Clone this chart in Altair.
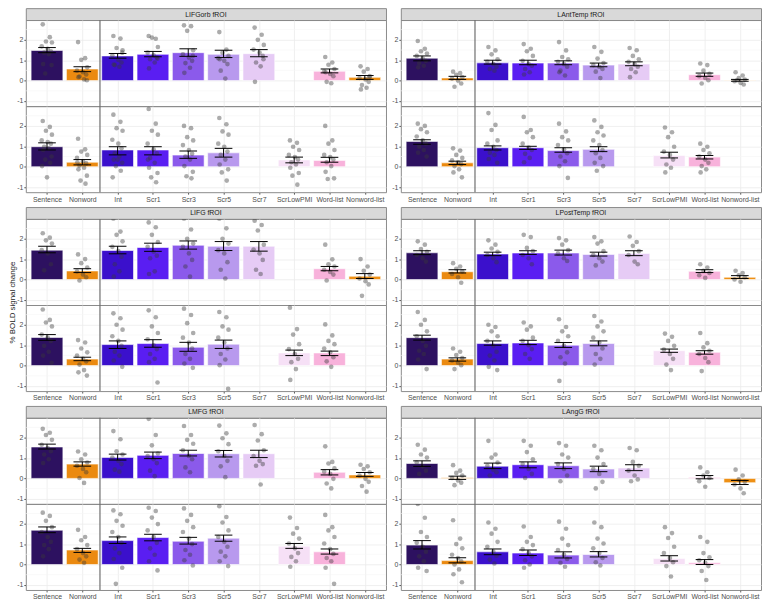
import altair as alt
import pandas as pd

cats = ["Sentence", "Nonword", "Int", "Scr1", "Scr3", "Scr5", "Scr7", "ScrLowPMI", "Word-list", "Nonword-list"]
colors = ["#2d1160", "#eb8a10", "#3b10cc", "#5a1ef2", "#8b5aeb", "#b899ee", "#e6cbf5", "#f6e0f6", "#f8b2db", "#ee9015"]
cats_top = ["Sentence", "Nonword", "Int", "Scr1", "Scr3", "Scr5", "Scr7", "Word-list", "Nonword-list"]
cats_bot = ["Sentence", "Nonword", "Int", "Scr1", "Scr3", "Scr5", "ScrLowPMI", "Word-list"]
y_ticks = [-1, 0, 1, 2]
minor_grid = [-0.5, 0.5, 1.5, 2.5]
jitter = [-0.12, 0.08, -0.03, 0.14, -0.15, 0.02, 0.11, -0.08, 0.05, -0.11, 0.13, -0.05, 0.09, -0.14, 0.0]
y_title = "% BOLD signal change"

LIFGorb = dict(
    name="LIFGorb fROI",
    top_mean=[1.48, 0.57, 1.21, 1.29, 1.37, 1.29, 1.32, 0.46, 0.16],
    top_lo=[1.37, 0.44, 1.10, 1.17, 1.19, 1.13, 1.17, 0.38, 0.06],
    top_hi=[1.62, 0.68, 1.33, 1.43, 1.56, 1.49, 1.52, 0.57, 0.25],
    bot_mean=[0.98, 0.22, 0.82, 0.82, 0.57, 0.68, 0.33, 0.31],
    bot_lo=[0.82, 0.09, 0.58, 0.58, 0.41, 0.47, 0.19, 0.22],
    bot_hi=[1.17, 0.35, 0.98, 0.98, 0.77, 0.90, 0.47, 0.46],
    top_dots=[
        [2.76, 2.13, 1.92, 1.87, 1.68, 1.56, 1.44, 1.37, 1.30, 0.81, 0.76, 0.35],
        [1.89, 1.10, 1.02, 0.65, 0.49, 0.41, 0.30, 0.20, 0.06, 0.17, 0.02],
        [2.19, 2.06, 1.60, 1.49, 1.24, 1.02, 0.89, 0.76, 0.68, 0.79, 1.37],
        [2.19, 2.05, 2.11, 1.65, 1.37, 1.24, 1.13, 1.05, 0.89, 0.60, 1.08],
        [2.71, 2.67, 2.44, 1.49, 1.29, 1.13, 0.97, 0.86, 0.63, 0.38, 1.21],
        [2.38, 1.52, 1.37, 1.21, 1.10, 0.97, 0.81, 0.49, 0.10, 1.05],
        [2.60, 2.25, 2.00, 1.75, 1.52, 1.37, 1.21, 0.89, 0.70, -0.06, 1.05],
        [1.16, 0.89, 0.78, 0.57, 0.46, 0.33, 0.22, -0.06, -0.13, 0.41],
        [0.70, 0.57, 0.44, 0.22, 0.13, 0.06, -0.06, -0.22, -0.35, -0.43, 0.17],
    ],
    bot_dots=[
        [2.24, 1.95, 1.76, 1.57, 1.29, 1.21, 1.13, 0.98, 0.90, 0.82, 0.50, 0.35, 0.19, 0.03, -0.52],
        [1.37, 0.85, 0.74, 0.58, 0.43, 0.27, 0.16, 0.06, -0.05, -0.13, -0.44, -0.68, -0.83, 0.22],
        [2.55, 2.20, 1.89, 1.76, 1.32, 1.13, 0.90, 0.66, 0.50, 0.35, 0.19, 0.03, -0.20, -0.52, 0.35],
        [2.83, 2.11, 1.76, 1.57, 1.13, 0.85, 0.66, 0.43, 0.19, -0.05, -0.31, -0.52, -0.76, 0.35],
        [2.00, 1.89, 1.45, 1.29, 1.06, 0.82, 0.63, 0.50, 0.35, 0.03, -0.25, -0.47, -0.57],
        [2.39, 2.08, 1.73, 1.57, 1.13, 0.98, 0.74, 0.58, 0.35, 0.11, -0.13, -0.28, -0.68],
        [1.29, 1.17, 0.98, 0.82, 0.58, 0.47, 0.35, 0.22, 0.11, -0.05, -0.31, -0.44, -0.88],
        [2.00, 1.29, 1.13, 0.82, 0.58, 0.47, 0.35, 0.22, 0.03, -0.25, -0.57, -0.60],
    ],
)

LAntTemp = dict(
    name="LAntTemp fROI",
    top_mean=[1.10, 0.13, 0.87, 0.86, 0.86, 0.76, 0.81, 0.29, 0.02],
    top_lo=[0.97, 0.06, 0.81, 0.78, 0.78, 0.68, 0.73, 0.21, -0.03],
    top_hi=[1.21, 0.21, 1.00, 1.00, 0.97, 0.86, 0.92, 0.37, 0.06],
    bot_mean=[1.24, 0.19, 0.93, 0.93, 0.79, 0.85, 0.55, 0.47],
    bot_lo=[1.10, 0.11, 0.82, 0.85, 0.71, 0.74, 0.43, 0.38],
    bot_hi=[1.32, 0.27, 1.02, 1.00, 0.93, 0.98, 0.71, 0.55],
    top_dots=[
        [1.94, 1.56, 1.44, 1.33, 1.21, 1.08, 0.97, 0.86, 0.73, 0.65],
        [0.44, 0.37, 0.29, 0.17, 0.10, 0.00, -0.14, -0.30],
        [1.65, 1.48, 1.29, 1.05, 0.92, 0.81, 0.68, 0.57, 0.49],
        [1.79, 1.56, 1.44, 1.21, 0.97, 0.81, 0.73, 0.57, 0.41, 0.30],
        [1.89, 1.48, 1.16, 1.05, 0.92, 0.81, 0.68, 0.49, 0.25, 0.41],
        [1.65, 1.41, 1.08, 0.86, 0.76, 0.68, 0.57, 0.44, 0.13],
        [1.60, 1.49, 1.21, 1.05, 0.92, 0.81, 0.68, 0.57, 0.41, 0.17],
        [0.84, 0.76, 0.49, 0.33, 0.22, 0.13, 0.02, -0.14],
        [0.41, 0.25, 0.13, 0.05, -0.03, -0.11, -0.19, 0.02],
    ],
    bot_dots=[
        [2.11, 2.00, 1.84, 1.69, 1.48, 1.29, 1.13, 0.98, 0.82, 0.69, 0.50],
        [0.90, 0.79, 0.58, 0.43, 0.31, 0.22, 0.13, 0.03, -0.13, -0.28, -0.52],
        [2.63, 2.05, 1.80, 1.29, 1.13, 0.98, 0.82, 0.69, 0.58, 0.38, 0.19],
        [2.44, 1.80, 1.69, 1.45, 1.13, 0.94, 0.82, 0.63, 0.43, 0.22],
        [2.11, 1.73, 1.45, 1.29, 1.06, 0.85, 0.66, 0.50, 0.27, 0.03, -0.55],
        [2.27, 1.95, 1.69, 1.53, 1.29, 1.06, 0.82, 0.66, 0.43, 0.19, 0.03, -0.20],
        [1.92, 1.69, 1.45, 0.98, 0.74, 0.58, 0.35, 0.11, -0.05, -0.28],
        [1.13, 0.98, 0.82, 0.66, 0.50, 0.35, 0.19, 0.03, -0.13, -0.28],
    ],
)

LIFG = dict(
    name="LIFG fROI",
    top_mean=[1.44, 0.42, 1.42, 1.57, 1.68, 1.63, 1.63, 0.53, 0.16],
    top_lo=[1.31, 0.34, 1.26, 1.38, 1.49, 1.42, 1.39, 0.43, 0.05],
    top_hi=[1.63, 0.53, 1.63, 1.78, 1.89, 1.86, 1.86, 0.64, 0.29],
    bot_mean=[1.38, 0.32, 1.03, 1.08, 0.90, 1.05, 0.62, 0.62],
    bot_lo=[1.24, 0.24, 0.84, 0.90, 0.70, 0.84, 0.49, 0.49],
    bot_hi=[1.52, 0.41, 1.21, 1.27, 1.14, 1.25, 0.76, 0.71],
    top_dots=[
        [2.27, 2.05, 1.92, 1.76, 1.44, 1.28, 0.75, 0.45],
        [1.23, 1.00, 0.80, 0.59, 0.40, 0.24, 0.11, -0.05],
        [2.99, 2.35, 2.19, 1.87, 1.60, 1.39, 1.12, 0.75, 0.40, 0.14],
        [2.80, 2.56, 2.19, 1.84, 1.60, 1.36, 1.17, 1.04, 0.40, 0.27],
        [2.99, 2.45, 2.00, 1.76, 1.60, 1.28, 0.96, 0.64, 0.14],
        [2.99, 2.51, 2.00, 1.76, 1.44, 1.28, 0.85, 0.48, 0.05],
        [2.88, 2.67, 2.40, 1.71, 1.47, 1.28, 0.96, 0.48, 0.27],
        [1.71, 0.99, 0.75, 0.64, 0.48, 0.37, 0.24, -0.05],
        [1.00, 0.64, 0.43, 0.24, 0.05, -0.08, -0.24, -0.80],
    ],
    bot_dots=[
        [2.75, 2.24, 2.11, 1.92, 1.52, 1.37, 1.21, 0.97, 0.68, 0.49, 0.14],
        [1.25, 1.13, 0.84, 0.65, 0.49, 0.33, 0.21, 0.05, -0.22, -0.33, -0.49],
        [2.56, 2.32, 2.00, 1.76, 1.44, 1.21, 0.97, 0.68, 0.49, 0.25, -0.06],
        [2.71, 2.37, 1.92, 1.60, 1.29, 1.00, 0.81, 0.57, 0.33, 0.17, -0.83],
        [2.79, 2.48, 2.08, 1.60, 1.37, 1.13, 0.84, 0.57, 0.33, 0.10, -0.11],
        [2.63, 2.37, 1.92, 1.76, 1.37, 1.13, 0.84, 0.57, 0.30, 0.02, -1.14],
        [2.84, 1.79, 1.52, 1.05, 0.81, 0.57, 0.33, 0.17, -0.17, -0.70],
        [2.02, 1.48, 1.21, 1.05, 0.84, 0.65, 0.41, 0.21, -0.06],
    ],
)

LPostTemp = dict(
    name="LPostTemp fROI",
    top_mean=[1.31, 0.38, 1.25, 1.30, 1.30, 1.23, 1.28, 0.40, 0.11],
    top_lo=[1.22, 0.32, 1.17, 1.23, 1.20, 1.15, 1.17, 0.34, 0.05],
    top_hi=[1.41, 0.48, 1.34, 1.41, 1.44, 1.34, 1.41, 0.48, 0.19],
    bot_mean=[1.37, 0.32, 1.08, 1.11, 1.00, 1.08, 0.73, 0.65],
    bot_lo=[1.25, 0.22, 1.00, 1.03, 0.89, 0.97, 0.65, 0.56],
    bot_hi=[1.49, 0.38, 1.21, 1.24, 1.13, 1.21, 0.81, 0.73],
    top_dots=[
        [1.87, 1.71, 1.49, 1.36, 1.20, 1.04, 0.88],
        [0.80, 0.64, 0.53, 0.40, 0.27, 0.11, -0.16],
        [1.92, 1.71, 1.52, 1.36, 1.20, 1.04, 0.85],
        [2.19, 2.08, 1.55, 1.39, 1.20, 1.04, 0.75],
        [2.03, 1.92, 1.71, 1.44, 1.28, 1.04, 0.91],
        [2.08, 1.87, 1.76, 1.39, 1.20, 1.04, 0.88, 0.69],
        [2.11, 1.84, 1.65, 1.39, 1.20, 0.88, 0.75],
        [0.75, 0.59, 0.43, 0.32, 0.21, 0.08],
        [0.43, 0.32, 0.21, 0.11, 0.00, -0.11],
    ],
    bot_dots=[
        [2.63, 2.24, 2.00, 1.68, 1.44, 1.21, 0.97, 0.73, 0.57, 0.30, -0.17],
        [0.84, 0.68, 0.52, 0.37, 0.25, 0.14, 0.02, -0.17],
        [2.00, 1.89, 1.68, 1.44, 1.21, 0.97, 0.68, 0.49, 0.25, -0.06, -0.22],
        [2.11, 1.92, 1.76, 1.37, 1.21, 1.00, 0.81, 0.57, 0.33],
        [2.27, 1.89, 1.68, 1.44, 1.21, 0.97, 0.65, 0.41, 0.10, -0.75],
        [2.43, 2.16, 1.92, 1.68, 1.37, 1.13, 0.84, 0.57, 0.33, 0.05],
        [1.57, 1.41, 1.21, 0.97, 0.78, 0.57, 0.33, 0.05, -0.22],
        [1.60, 1.10, 0.89, 0.73, 0.57, 0.37, 0.17, -0.27],
    ],
)

LMFG = dict(
    name="LMFG fROI",
    top_mean=[1.54, 0.70, 1.03, 1.13, 1.22, 1.21, 1.21, 0.30, 0.17],
    top_lo=[1.44, 0.60, 0.90, 0.97, 1.10, 1.05, 1.02, 0.17, 0.10],
    top_hi=[1.68, 0.81, 1.19, 1.29, 1.38, 1.37, 1.38, 0.43, 0.29],
    bot_mean=[1.68, 0.71, 1.17, 1.32, 1.14, 1.29, 0.90, 0.62],
    bot_lo=[1.56, 0.59, 1.03, 1.16, 1.00, 1.14, 0.79, 0.51],
    bot_hi=[1.84, 0.79, 1.35, 1.48, 1.33, 1.44, 1.03, 0.76],
    top_dots=[
        [2.43, 2.24, 2.13, 1.89, 1.65, 1.49, 1.33, 1.17, 0.94, 0.75],
        [1.32, 1.17, 0.94, 0.78, 0.62, 0.46, 0.30, 0.02, -0.22],
        [2.32, 1.92, 1.33, 1.17, 1.02, 0.86, 0.70, 0.43, 0.33],
        [2.92, 2.13, 1.62, 1.22, 1.10, 0.94, 0.75, 0.38, 0.11],
        [2.57, 2.13, 1.89, 1.70, 1.38, 1.10, 0.94, 0.54, 0.30],
        [2.59, 2.21, 1.97, 1.68, 1.33, 1.10, 0.86, 0.59, 0.06],
        [2.62, 2.17, 1.86, 1.38, 1.10, 0.86, 0.70, 0.62, -0.30],
        [1.57, 0.81, 0.73, 0.49, 0.33, 0.22, -0.02, -0.25, -0.49],
        [0.67, 0.59, 0.46, 0.30, 0.14, -0.02, -0.17, -0.37, -0.65],
    ],
    bot_dots=[
        [2.54, 2.38, 2.14, 1.83, 1.59, 1.35, 1.11, 0.95, 0.75, 0.40],
        [1.70, 1.35, 1.19, 0.95, 0.75, 0.56, 0.40, 0.24, 0.08],
        [2.65, 2.46, 2.14, 1.90, 1.59, 1.35, 1.06, 0.79, 0.56, 0.27, -0.16, -0.95],
        [2.78, 2.62, 2.30, 1.98, 1.67, 1.35, 1.06, 0.79, 0.48, 0.16, -0.29],
        [2.75, 2.43, 2.14, 1.83, 1.59, 1.27, 1.00, 0.71, 0.48, 0.21, -0.05],
        [2.86, 2.33, 2.06, 1.67, 1.35, 1.11, 0.87, 0.63, 0.40, 0.16, -0.08],
        [2.30, 1.79, 1.51, 1.27, 1.03, 0.79, 0.56, 0.37, 0.16, -0.11],
        [2.43, 1.83, 1.67, 1.35, 1.03, 0.75, 0.52, 0.32, 0.16, -0.16, -0.95],
    ],
)

LAngG = dict(
    name="LAngG fROI",
    top_mean=[0.73, 0.03, 0.60, 0.67, 0.62, 0.46, 0.51, 0.05, -0.21],
    top_lo=[0.59, -0.05, 0.48, 0.52, 0.48, 0.33, 0.38, -0.02, -0.30],
    top_hi=[0.86, 0.11, 0.75, 0.81, 0.76, 0.60, 0.67, 0.14, -0.10],
    bot_mean=[0.95, 0.19, 0.62, 0.56, 0.46, 0.49, 0.29, 0.08],
    bot_lo=[0.76, 0.08, 0.48, 0.44, 0.32, 0.37, 0.17, 0.00],
    bot_hi=[1.17, 0.33, 0.76, 0.71, 0.62, 0.63, 0.43, 0.24],
    top_dots=[
        [1.65, 1.41, 1.17, 1.02, 0.78, 0.59, 0.38, 0.22],
        [0.65, 0.38, 0.27, 0.14, 0.02, -0.10, -0.21, -0.33],
        [1.84, 1.17, 1.02, 0.78, 0.62, 0.43, 0.30, 0.14],
        [1.84, 1.60, 1.29, 0.94, 0.70, 0.46, 0.22, 0.02],
        [1.73, 1.60, 1.17, 1.02, 0.70, 0.46, 0.14, -0.14],
        [1.60, 1.38, 1.02, 0.70, 0.46, 0.22, -0.17, -0.49],
        [1.49, 1.38, 0.81, 0.62, 0.38, 0.14, -0.05, -0.14],
        [0.54, 0.30, 0.14, 0.02, -0.14, -0.41],
        [0.43, 0.14, -0.05, -0.17, -0.30, -0.49, -0.73],
    ],
    bot_dots=[
        [2.97, 2.29, 1.59, 1.35, 1.06, 0.87, 0.63, 0.40, 0.16, -0.16, -0.32],
        [2.17, 1.27, 1.00, 0.79, 0.48, 0.32, 0.16, 0.00, -0.24, -0.48, -0.87],
        [2.06, 1.75, 1.51, 1.11, 0.87, 0.63, 0.43, 0.24, 0.05],
        [1.86, 1.35, 1.11, 0.95, 0.75, 0.56, 0.40, 0.21, 0.00, -0.16],
        [2.10, 1.75, 1.27, 0.95, 0.71, 0.48, 0.27, 0.08, -0.11],
        [2.06, 1.83, 1.27, 1.03, 0.79, 0.56, 0.32, 0.11, -0.05],
        [1.83, 1.54, 1.30, 0.87, 0.56, 0.32, 0.11, -0.08, -0.59],
        [1.35, 1.11, 0.56, 0.35, 0.21, 0.08, -0.08, -0.32, -0.76],
    ],
)

left_rois = [LIFGorb, LIFG, LMFG]
right_rois = [LAntTemp, LPostTemp, LAngG]

W = 364
H = 87
STRIP_H = 12
FONT = "Liberation Sans"
BORDER = "#8a8a8a"

xs = alt.Scale(domain=[-0.6, 9.6], nice=False, zero=False)
ys = alt.Scale(domain=[-1.25, 2.97], nice=False, zero=False)
label_expr = "[" + ",".join("'%s'" % c for c in cats) + "][datum.value]"


def y_axis(with_title):
    kw = dict(values=y_ticks, grid=True, gridColor="#ebebeb", gridWidth=0.8,
              domain=False, tickSize=2, tickColor="#333333", tickWidth=0.8, labelPadding=1,
              labelFontSize=7, labelColor="#4d4d4d", labelFont=FONT,
              labelExpr="'' + datum.value", minExtent=0, maxExtent=9)
    if with_title:
        kw.update(title=y_title, titleFontSize=8, titleFont=FONT, titleFontWeight="normal",
                  titleColor="#1a1a1a", titlePadding=0, titleY=H - 3)
    else:
        kw.update(title=None)
    return alt.Axis(**kw)


def x_axis(show):
    if show:
        return alt.Axis(values=list(range(10)), labelExpr=label_expr, title=None, grid=True,
                        gridColor="#ebebeb", gridWidth=0.8, domain=False, tickSize=2,
                        tickColor="#333333", tickWidth=0.8, labelPadding=1, labelFontSize=7,
                        labelColor="#4d4d4d", labelFont=FONT, labelAngle=0,
                        minExtent=0, maxExtent=11)
    return alt.Axis(values=list(range(10)), labels=False, ticks=False, domain=False, title=None,
                    grid=True, gridColor="#ebebeb", gridWidth=0.8, minExtent=0, maxExtent=0)


def sub_panel(d, which, show_x, with_title=False):
    names = cats_top if which == "top" else cats_bot
    bars = pd.DataFrame({"cond": names, "mean": d[which + "_mean"],
                         "lo": d[which + "_lo"], "hi": d[which + "_hi"]})
    bars["idx"] = [cats.index(c) for c in names]
    bars["x0"] = bars["idx"] - 0.45
    bars["x1"] = bars["idx"] + 0.45
    bars["c0"] = bars["idx"] - 0.25
    bars["c1"] = bars["idx"] + 0.25
    bars["zero"] = 0.0
    rows = []
    for c, vals in zip(names, d[which + "_dots"]):
        for k, v in enumerate(vals):
            rows.append({"px": cats.index(c) + jitter[k % len(jitter)], "v": v})
    dots = pd.DataFrame(rows)
    xa = x_axis(show_x)
    ya = y_axis(with_title)

    minor = alt.Chart(pd.DataFrame({"g": minor_grid})).mark_rule(
        color="#f4f4f4", strokeWidth=0.6).encode(
        y=alt.Y("g:Q", scale=ys, axis=ya))
    b = alt.Chart(bars).mark_bar(stroke="white", strokeWidth=0.6, clip=True).encode(
        x=alt.X("x0:Q", scale=xs, axis=xa), x2="x1:Q",
        y=alt.Y("mean:Q", scale=ys, axis=ya), y2="zero:Q",
        color=alt.Color("cond:N", scale=alt.Scale(domain=cats, range=colors), legend=None))
    p = alt.Chart(dots).mark_circle(size=22, color="#3a3a3a", opacity=0.42, clip=True).encode(
        x=alt.X("px:Q", scale=xs, axis=xa), y=alt.Y("v:Q", scale=ys, axis=ya))
    ev = alt.Chart(bars).mark_rule(color="black", strokeWidth=1).encode(
        x=alt.X("idx:Q", scale=xs, axis=xa), y=alt.Y("lo:Q", scale=ys, axis=ya), y2="hi:Q")
    eh = alt.Chart(bars).mark_rule(color="black", strokeWidth=1).encode(
        x=alt.X("c0:Q", scale=xs, axis=xa), x2="c1:Q", y=alt.Y("hi:Q", scale=ys, axis=ya))
    el = alt.Chart(bars).mark_rule(color="black", strokeWidth=1).encode(
        x=alt.X("c0:Q", scale=xs, axis=xa), x2="c1:Q", y=alt.Y("lo:Q", scale=ys, axis=ya))
    sep = alt.Chart(pd.DataFrame({"s": [1.5]})).mark_rule(color="#6e6e6e", strokeWidth=1.2).encode(
        x=alt.X("s:Q", scale=xs, axis=xa))
    return alt.layer(minor, b, p, ev, eh, el, sep).properties(
        width=W, height=H, view=alt.ViewBackground(stroke=BORDER, strokeWidth=1))


def strip(name):
    return alt.Chart(pd.DataFrame({"t": [name]})).mark_text(
        fontSize=7, color="#1a1a1a", font=FONT, baseline="middle", align="center").encode(
        text="t:N", x=alt.value(W / 2), y=alt.value(STRIP_H / 2 + 0.5)).properties(
        width=W, height=STRIP_H, view=alt.ViewBackground(fill="#d9d9d9", stroke=BORDER, strokeWidth=1))


def block(d, with_title=False):
    return alt.vconcat(strip(d["name"]), sub_panel(d, "top", False, with_title),
                       sub_panel(d, "bot", True), spacing=0, bounds="flush")


left_col = alt.vconcat(*[block(d, d is LIFG) for d in left_rois], spacing=3)
right_col = alt.vconcat(*[block(d) for d in right_rois], spacing=3)

chart = alt.hconcat(left_col, right_col, spacing=4).properties(
    padding={"left": 0, "top": -4, "right": 0, "bottom": 0}, background="white")

chart.save("out.html", embed_options={"renderer": "svg", "actions": False})
